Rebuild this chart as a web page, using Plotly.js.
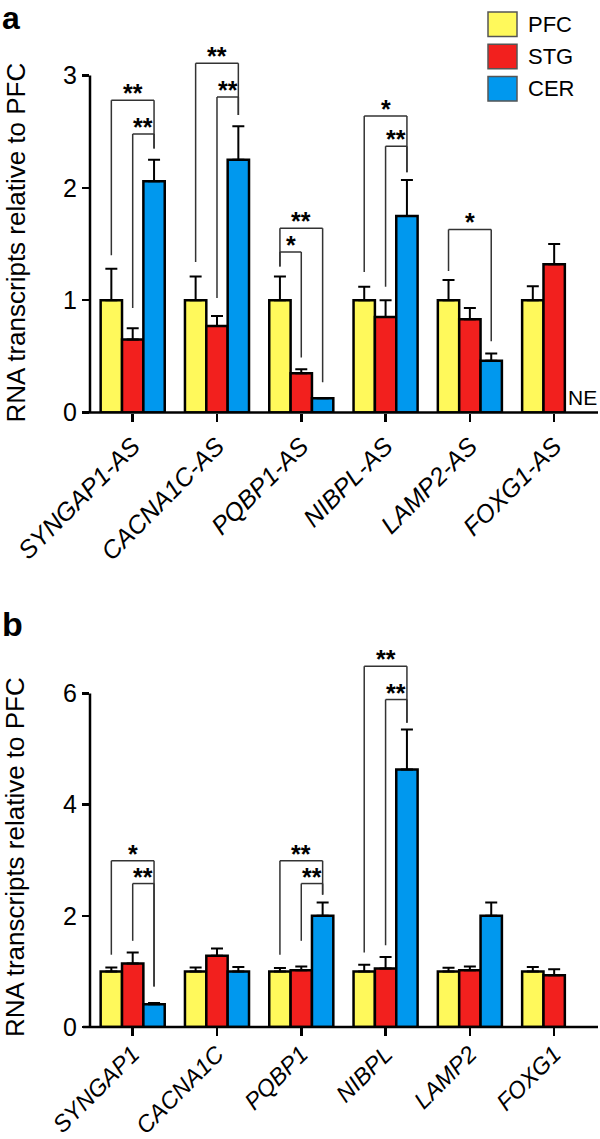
<!DOCTYPE html>
<html><head><meta charset="utf-8">
<script src="https://cdn.plot.ly/plotly-3.0.1.min.js"></script>
<style>html,body{margin:0;padding:0;background:#fff}</style>
</head><body><div id="chart" style="width:600px;height:1139px"></div>
<script>
// ---------- data ----------
const regions = ['PFC', 'STG', 'CER'];
const colors = ['#FFF95B', '#F2201E', '#0098EE'];

const genesA = ['SYNGAP1-AS', 'CACNA1C-AS', 'PQBP1-AS', 'NIBPL-AS', 'LAMP2-AS', 'FOXG1-AS'];
const pfcA = [1, 1, 1, 1, 1, 1];
const pfcAErr = [0.28, 0.21, 0.21, 0.12, 0.18, 0.125];
const stgA = [0.65, 0.77, 0.35, 0.85, 0.83, 1.32];
const stgAErr = [0.10, 0.09, 0.035, 0.15, 0.10, 0.18];
const cerA = [2.06, 2.25, 0.127, 1.75, 0.46, null];
const cerAErr = [0.19, 0.30, 0, 0.32, 0.065, null];

const genesB = ['SYNGAP1', 'CACNA1C', 'PQBP1', 'NIBPL', 'LAMP2', 'FOXG1'];
const pfcB = [1, 1, 1, 1, 1, 1];
const pfcBErr = [0.07, 0.07, 0.06, 0.12, 0.065, 0.08];
const stgB = [1.14, 1.28, 1.02, 1.05, 1.02, 0.93];
const stgBErr = [0.20, 0.13, 0.07, 0.21, 0.07, 0.11];
const cerB = [0.41, 1.0, 2.0, 4.63, 2.0, null];
const cerBErr = [0.02, 0.08, 0.24, 0.72, 0.24, null];

// significance brackets: group, left bar, right bar, top, left leg bottom, right leg bottom, label
const sigA = [
  [0, 0, 2, 2.78, 1.40, 2.35, '**'],
  [0, 1, 2, 2.48, 0.93, 2.35, '**'],
  [1, 0, 2, 3.11, 1.34, 2.65, '**'],
  [1, 1, 2, 2.81, 1.02, 2.65, '**'],
  [2, 0, 2, 1.64, 1.30, 0.27, '**'],
  [2, 0, 1, 1.43, 1.30, 0.49, '*'],
  [3, 0, 2, 2.64, 1.25, 2.14, '*'],
  [3, 1, 2, 2.37, 1.12, 2.14, '**'],
  [4, 0, 2, 1.63, 1.26, 0.635, '*']
];
const sigB = [
  [0, 0, 2, 2.99, 1.30, 0.73, '*'],
  [0, 1, 2, 2.58, 1.55, 0.73, '**'],
  [2, 0, 2, 2.99, 1.30, 2.38, '**'],
  [2, 1, 2, 2.58, 1.55, 2.38, '**'],
  [3, 0, 2, 6.49, 1.34, 5.47, '**'],
  [3, 1, 2, 5.89, 1.47, 5.47, '**']
];
const notEvaluated = 'NE';
const yTitle = 'RNA transcripts relative to PFC';

// ---------- layout helpers ----------
const W = 600, H = 1139;
const FONT = '"Liberation Sans", Arial, Helvetica, sans-serif';
const BARGAP = 0.24;
const bw = (1 - BARGAP) / 3;
const OFF = [-bw, 0, bw];
function paperX(p) { return (p - 90) / 508; }
function paperY(p) { return (H - p) / H; }

function barTraces(genes, vals, errs, xa, ya) {
  return vals.map((v, i) => ({
    type: 'bar', name: regions[i], x: genes, y: v,
    xaxis: xa, yaxis: ya, showlegend: false,
    marker: { color: colors[i], line: { color: '#000', width: 2.5 } },
    error_y: { type: 'data', symmetric: false, array: errs[i],
      arrayminus: errs[i].map(() => 0), color: '#000', thickness: 2, width: 6 },
    hoverinfo: 'x+y+name'
  }));
}

const data = [
  ...barTraces(genesA, [pfcA, stgA, cerA], [pfcAErr, stgAErr, cerAErr], 'x', 'y'),
  ...barTraces(genesB, [pfcB, stgB, cerB], [pfcBErr, stgBErr, cerBErr], 'x2', 'y2')
];

const shapes = [];
const annotations = [];

function brackets(sig, xr, yr) {
  sig.forEach(([g, a, b, top, la, lb, lab]) => {
    const xa = g + OFF[a], xb = g + OFF[b];
    const ln = { color: '#333', width: 1.5 };
    shapes.push({ type: 'line', xref: xr, yref: yr, x0: xa, x1: xa, y0: la, y1: top, line: ln });
    shapes.push({ type: 'line', xref: xr, yref: yr, x0: xa, x1: xb, y0: top, y1: top, line: ln });
    shapes.push({ type: 'line', xref: xr, yref: yr, x0: xb, x1: xb, y0: top, y1: lb, line: ln });
    annotations.push({ xref: xr, yref: yr, x: (xa + xb) / 2, y: top, text: lab,
      showarrow: false, xanchor: 'center', yanchor: 'bottom', yshift: -9,
      font: { family: FONT, size: 25, color: '#000', weight: 'bold' } });
  });
}
brackets(sigA, 'x', 'y');
brackets(sigB, 'x2', 'y2');

const domA = [paperY(412.5), paperY(40)];
const domB = [paperY(1027), paperY(640)];
const rngA = [0, 372.5 / 112.3];
const rngB = [0, 387 / 55.6];
const xr = [-0.5065, 5.52];

// axis lines
[['y', domA, 3], ['y2', domB, 6]].forEach(([yr, dom, top]) => {
  shapes.push({ type: 'line', xref: 'paper', yref: yr, x0: 0, x1: 0, y0: 0, y1: top,
    line: { color: '#000', width: 2.5 } });
  shapes.push({ type: 'line', xref: 'paper', yref: 'paper', x0: paperX(83), x1: paperX(598),
    y0: dom[0], y1: dom[0], line: { color: '#000', width: 2.5 } });
});

// y titles
[242.5, 857].forEach(cy => {
  annotations.push({ xref: 'paper', yref: 'paper', x: paperX(15), y: paperY(cy),
    text: yTitle, textangle: -90, showarrow: false,
    xanchor: 'center', yanchor: 'middle',
    font: { family: FONT, size: 26, color: '#000' } });
});

// panel labels
annotations.push({ xref: 'paper', yref: 'paper', x: paperX(0), y: paperY(-2), text: 'a',
  showarrow: false, xanchor: 'left', yanchor: 'top',
  font: { family: FONT, size: 32, color: '#000', weight: 'bold' } });
annotations.push({ xref: 'paper', yref: 'paper', x: paperX(0), y: paperY(603), text: 'b',
  showarrow: false, xanchor: 'left', yanchor: 'top',
  font: { family: FONT, size: 34, color: '#000', weight: 'bold' } });

// NE label
annotations.push({ xref: 'x', yref: 'y', x: 5 + 0.34, y: 0, text: notEvaluated,
  showarrow: false, xanchor: 'center', yanchor: 'bottom', yshift: 2,
  font: { family: FONT, size: 21, color: '#000' } });

// legend (drawn)
regions.forEach((r, i) => {
  const y0 = 12 + i * 32.3, y1 = y0 + 24.5;
  shapes.push({ type: 'rect', xref: 'paper', yref: 'paper',
    x0: paperX(488), x1: paperX(517), y0: paperY(y1), y1: paperY(y0),
    fillcolor: colors[i], line: { color: '#555', width: 1.5 } });
  annotations.push({ xref: 'paper', yref: 'paper', x: paperX(526), y: paperY((y0 + y1) / 2),
    text: r, showarrow: false, xanchor: 'left', yanchor: 'middle',
    font: { family: FONT, size: 22, color: '#000' } });
});

function xaxis(anchor, size, standoff) {
  return {
    domain: [0, 1], anchor: anchor, type: 'category', range: xr,
    showline: false, showgrid: false, zeroline: false,
    ticks: 'outside', ticklen: 8, tickwidth: 2.5, tickcolor: '#000',
    ticklabelstandoff: standoff,
    tickangle: -45, tickfont: { family: FONT, size: size, color: '#000', style: 'italic' },
    fixedrange: true
  };
}
function yaxis(anchor, dom, rng, tv) {
  return {
    domain: dom, anchor: anchor, range: rng, tickvals: tv,
    showline: false, showgrid: false, zeroline: false,
    ticks: 'outside', ticklen: 7, tickwidth: 2.5, tickcolor: '#000',
    tickfont: { family: FONT, size: 25, color: '#000' }, fixedrange: true
  };
}

const layout = {
  width: W, height: H,
  margin: { l: 90, r: 2, t: 0, b: 0, pad: 0 },
  paper_bgcolor: '#fff', plot_bgcolor: 'rgba(0,0,0,0)',
  barmode: 'group', bargap: BARGAP, bargroupgap: 0,
  showlegend: false,
  xaxis: xaxis('y', 25, 0),
  yaxis: yaxis('x', domA, rngA, [0, 1, 2, 3]),
  xaxis2: xaxis('y2', 23.5, -5),
  yaxis2: yaxis('x2', domB, rngB, [0, 2, 4, 6]),
  shapes: shapes,
  annotations: annotations,
  font: { family: FONT, color: '#000' }
};

Plotly.newPlot('chart', data, layout, { displayModeBar: false, staticPlot: true });
</script>
</body></html>
